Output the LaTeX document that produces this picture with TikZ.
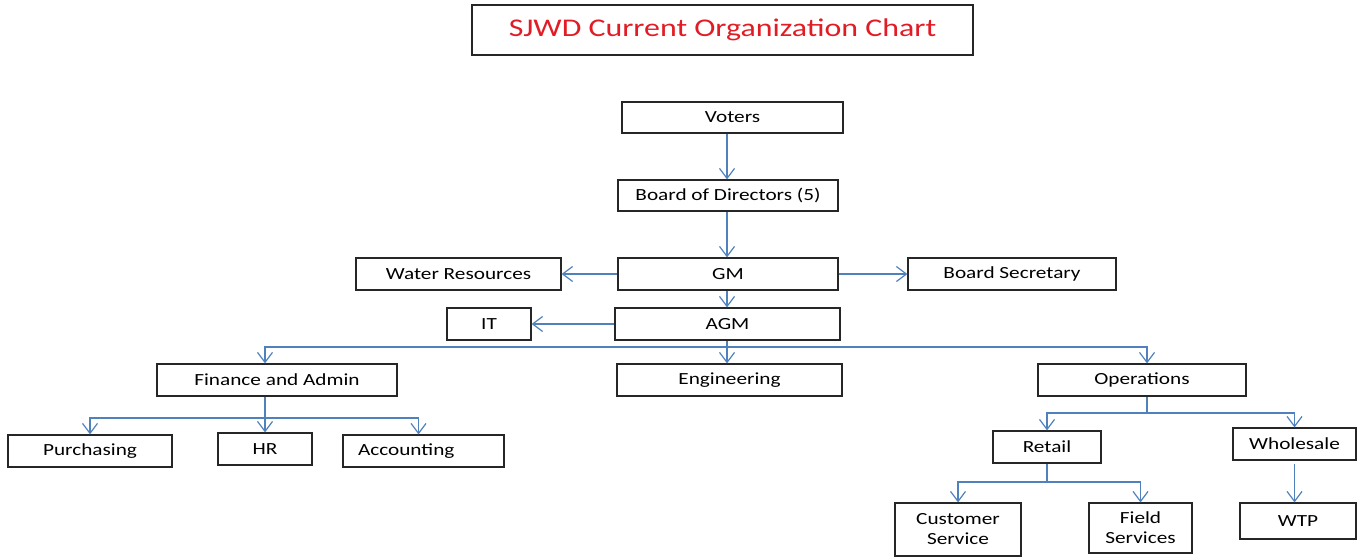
\documentclass[tikz,border=0pt]{standalone}
\usepackage{fontspec}
\setmainfont{Carlito}[FakeStretch=1.25]
\usetikzlibrary{arrows.meta}

\definecolor{titlered}{RGB}{226,28,36}
\definecolor{linkblue}{RGB}{79,129,189}

\tikzset{
	box/.style={rectangle,draw=black!85,line width=1.2pt,inner sep=0,minimum height=32,font=\fontsize{17}{20}\selectfont},
	link/.style={draw=linkblue,line width=1.2pt},
	arr/.style={link,-{Straight Barb[length=10pt,width=15pt,line width=1.2pt]}}
}

\begin{document}
\begin{tikzpicture}[x=1pt, y=-1pt]
		\useasboundingbox (0,0) rectangle (1359,558);
		
		\node (title) at (722.5,30) [box, minimum width=501, minimum height=50, font=\fontsize{25.5}{30}\selectfont, text=titlered]  {SJWD Current Organization Chart};
		
		\node (voters) at (732.5,117.5) [box, minimum width=221, minimum height=31]  {Voters};
		\node (board) at (728,195.5) [box, minimum width=220, minimum height=31]  {Board of Directors (5)};
		\node (water) at (458.5,274) [box, minimum width=205]  {Water Resources};
		\node (gm) at (728,274) [box, minimum width=220]  {GM};
		\node (secretary) at (1012,274) [box, minimum width=208]  {Board Secretary};
		\node (it) at (489,324) [box, minimum width=84]  {IT};
		\node (agm) at (727.5,324) [box, minimum width=225]  {AGM};
		
		\node (finance) at (277,380) [box, minimum width=240]  {Finance and Admin};
		\node (engineering) at (729.5,380) [box, minimum width=225]  {Engineering};
		\node (operations) at (1142,380) [box, minimum width=208]  {Operations};
		
		\node (purchasing) at (90,451) [box, minimum width=164]  {Purchasing};
		\node (hr) at (265,449) [box, minimum width=94]  {HR};
		\node (accounting) at (423.5,451) [box, inner xsep=15, text width=131, align=left]  {Accounting};
		
		\node (retail) at (1047,447) [box, minimum width=108]  {Retail};
		\node (wholesale) at (1294.5,444) [box, minimum width=123]  {Wholesale};
		\node (custserv) at (958,529.5) [box, minimum width=126, minimum height=53, align=center]  {Customer\\Service};
		\node (fieldserv) at (1140.5,528) [box, minimum width=103, minimum height=50, align=center]  {Field\\Services};
		\node (wtp) at (1298,521) [box, minimum width=116, minimum height=36]  {WTP};
		
		\coordinate (spine) at (727,0);
		\coordinate (bus1) at (727,347);
		\coordinate (bus2) at (265,418);
		\coordinate (bus3) at (1147,413);
		\coordinate (bus4) at (1047,482);
		
		\draw[arr] (voters.south -| spine) to (board.north -| spine);
		\draw[arr] (board.south -| spine) to (gm.north -| spine);
		\draw[arr] (gm) to (water);
		\draw[arr] (gm) to (secretary);
		\draw[arr] (gm.south -| spine) to (agm.north -| spine);
		\draw[arr] (agm) to (it);
		
		\draw[link] (agm.south -| spine) to (bus1);
		\draw[arr] (bus1) -| ([xshift=-12]finance.north);
		\draw[arr] (bus1) to (engineering.north -| spine);
		\draw[arr] (bus1) -| ([xshift=5]operations.north);
		
		\draw[link] ([xshift=-12]finance.south) to (bus2);
		\draw[arr] (bus2) -| (purchasing);
		\draw[arr] (bus2) to (hr);
		\draw[arr] (bus2) -| ([xshift=-5]accounting.north);
		
		\draw[link] ([xshift=5]operations.south) to (bus3);
		\draw[arr] (bus3) -| (retail);
		\draw[arr] (bus3) -| (wholesale);
		
		\draw[link] (retail) to (bus4);
		\draw[arr] (bus4) -| (custserv);
		\draw[arr] (bus4) -| (fieldserv);
		
		\draw[arr] ([yshift=-3]wholesale.south) to (wholesale.south |- wtp.north);
		
	\end{tikzpicture}
\end{document}
